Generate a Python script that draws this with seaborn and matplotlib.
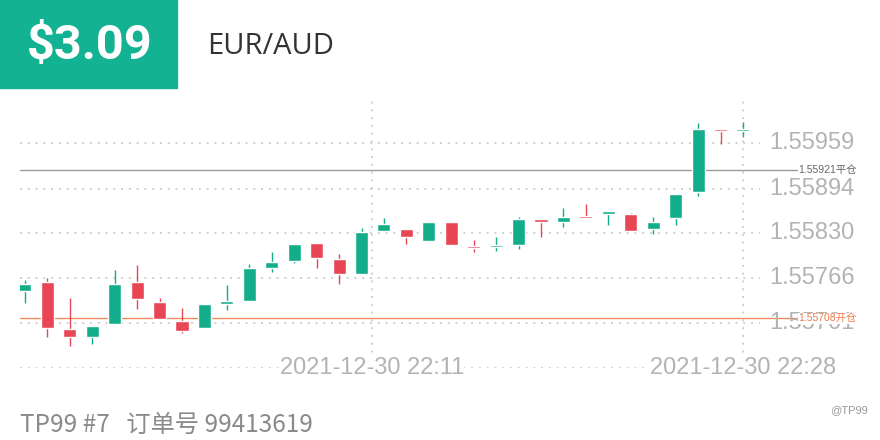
import numpy as np
import pandas as pd
import seaborn as sns
import matplotlib.pyplot as plt

# EUR/AUD 1분봉
open_ = [1.55748, 1.55760, 1.55693, 1.55682, 1.55700, 1.55760, 1.55731, 1.55704, 1.55694, 1.55728,
         1.55733, 1.55781, 1.55791, 1.55816, 1.55793, 1.55771, 1.55834, 1.55836, 1.55819, 1.55846,
         1.55811, 1.55810, 1.55813, 1.55850, 1.55846, 1.55854, 1.55857, 1.55857, 1.55836, 1.55852,
         1.55889, 1.55979, 1.55976]
close = [1.55758, 1.55694, 1.55682, 1.55697, 1.55758, 1.55736, 1.55707, 1.55690, 1.55728, 1.55733,
         1.55780, 1.55789, 1.55814, 1.55794, 1.55771, 1.55832, 1.55843, 1.55824, 1.55846, 1.55813,
         1.55810, 1.55813, 1.55850, 1.55846, 1.55853, 1.55853, 1.55862, 1.55833, 1.55846, 1.55887,
         1.55979, 1.55976, 1.55979]
high = [1.55763, 1.55766, 1.55738, 1.55697, 1.55778, 1.55784, 1.55738, 1.55723, 1.55728, 1.55756,
        1.55786, 1.55803, 1.55814, 1.55816, 1.55801, 1.55837, 1.55852, 1.55836, 1.55846, 1.55846,
        1.55820, 1.55824, 1.55853, 1.55850, 1.55866, 1.55872, 1.55862, 1.55859, 1.55853, 1.55887,
        1.55988, 1.55979, 1.55989]
low = [1.55730, 1.55682, 1.55668, 1.55672, 1.55700, 1.55721, 1.55707, 1.55687, 1.55694, 1.55720,
       1.55733, 1.55774, 1.55787, 1.55781, 1.55758, 1.55771, 1.55834, 1.55814, 1.55819, 1.55813,
       1.55803, 1.55804, 1.55808, 1.55824, 1.55839, 1.55852, 1.55842, 1.55833, 1.55829, 1.55842,
       1.55883, 1.55958, 1.55968]

price_ticks = [1.55701, 1.55766, 1.55830, 1.55894, 1.55959]
grid_levels = [1.55637, 1.55701, 1.55766, 1.55830, 1.55894, 1.55959, 1.56023]
time_labels = ['2021-12-30 22:11', '2021-12-30 22:28']
time_pos = [15.46, 32]
open_price = 1.55708
close_price = 1.55921

df = pd.DataFrame({'open': open_, 'close': close, 'high': high, 'low': low})
df['x'] = np.arange(len(df))
df['up'] = df['close'] >= df['open']

GREEN = '#14ad8c'
RED = '#e84655'

sns.set_theme(style='white')
plt.rcParams['font.family'] = ['Liberation Sans', 'Noto Sans CJK SC', 'DejaVu Sans']

fig = plt.figure(figsize=(8.8, 4.4), dpi=100)
ax = fig.add_axes([20 / 880, 1 - 368 / 440, 740 / 880, 268 / 440])

# 격자 (점선)
for g in grid_levels:
    ax.axhline(g, color='#d0d0d0', lw=1.4, ls=(0, (1, 3)), zorder=0)
for t in time_pos:
    ax.axvline(t, color='#d0d0d0', lw=1.4, ls=(0, (1, 3)), zorder=0)

# 캔들
colors = np.where(df['up'], GREEN, RED)
ax.vlines(df['x'], df['low'], df['high'], colors=colors, lw=1, zorder=2)
mid = (df['open'] + df['close']) / 2
body = (df['close'] - df['open']).abs().clip(lower=0.00003)
ax.bar(df['x'], body, bottom=mid - body / 2, width=0.58, color=colors, zorder=3)

# 开仓 / 平仓 라인
ax.axhline(close_price, xmax=1.05, color='#9a9a9a', lw=1, clip_on=False, zorder=1)
ax.axhline(open_price, xmax=1.05, color='#f08a5d', lw=1, clip_on=False, zorder=1)

ax.set_xlim(-0.22, 32.76)
ax.set_ylim(1.55637, 1.56021)
ax.set_xticks([])
ax.set_yticks([])
sns.despine(ax=ax, left=True, bottom=True)

for v in price_ticks:
    ax.text(1.012, v, f'{v:.5f}', transform=ax.get_yaxis_transform(),
            va='center', ha='left', fontsize=17, color='#b3b3b3')

ax.text(1.052, close_price, f'{close_price:.5f}平仓', transform=ax.get_yaxis_transform(),
        va='center', ha='left', fontsize=7.5, color='#666666',
        bbox=dict(facecolor='white', edgecolor='none', pad=0.5))
ax.text(1.052, open_price, f'{open_price:.5f}开仓', transform=ax.get_yaxis_transform(),
        va='center', ha='left', fontsize=7.5, color='#f07a4a',
        bbox=dict(facecolor='white', edgecolor='none', pad=0.5))

for t, lab in zip(time_pos, time_labels):
    ax.text(t, grid_levels[0], lab, ha='center', va='center', fontsize=17,
            color='#b3b3b3', bbox=dict(facecolor='white', edgecolor='none', pad=0))

# 상단 헤더
fig.patches.append(plt.Rectangle((0, 1 - 88 / 440), 177 / 880, 88 / 440,
                                 transform=fig.transFigure, color='#12b293'))
fig.text(90 / 880, 1 - 46 / 440, '$3.09', ha='center', va='center', fontsize=35,
         fontweight='bold', color='white', family=['Roboto', 'DejaVu Sans'])
fig.text(207 / 880, 1 - 46 / 440, 'EUR/AUD', ha='left', va='center', fontsize=21,
         color='#333333', family=['Open Sans', 'DejaVu Sans'])

# 하단
fig.text(20 / 880, 1 - 425 / 440, 'TP99 #7   订单号 99413619', ha='left', va='center',
         fontsize=17.5, color='#8a8a8a', family=['Noto Sans CJK SC', 'DejaVu Sans'])
fig.text(868 / 880, 1 - 410 / 440, '@TP99', ha='right', va='center', fontsize=8,
         color='#999999')

fig.savefig('out.png', dpi=100)
